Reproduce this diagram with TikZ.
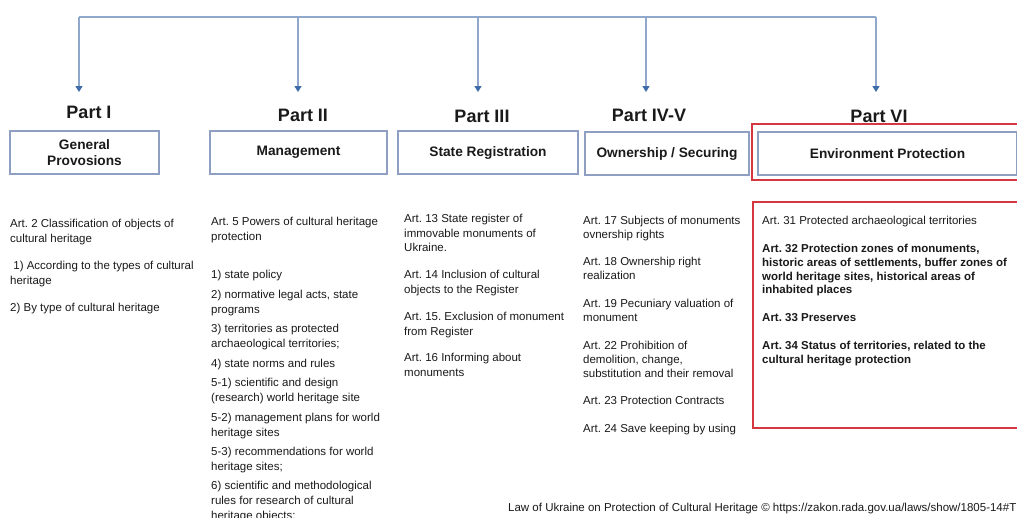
\documentclass[tikz,border=0pt]{standalone}
\usepackage{fontspec}
\setmainfont{Liberation Sans}
\usetikzlibrary{arrows.meta}
\frenchspacing
\definecolor{linkblue}{HTML}{8FA8CC}
\definecolor{tipblue}{HTML}{3F6CA8}
\definecolor{boxgray}{HTML}{8E9FC2}
\definecolor{framered}{HTML}{D4373F}
\definecolor{inktext}{HTML}{1A1A1A}
\tikzset{
  link/.style={draw=linkblue, line width=1.4pt,
    -{Triangle[width=7pt,length=6pt,color=tipblue]}},
  rail/.style={draw=linkblue, line width=1.4pt},
  parttitle/.style={font=\fontsize{18}{20}\selectfont\bfseries, text=inktext, inner sep=0pt},
  partbox/.style={draw=boxgray, line width=1.2pt, fill=white, minimum height=43pt,
    align=center, inner sep=0pt, text=inktext,
    font=\fontsize{13.7}{16}\selectfont\bfseries},
  redframe/.style={draw=framered, line width=1.3pt},
  item/.style={anchor=north west, align=left, inner sep=0pt, text=inktext},
  itemA/.style={item, font=\fontsize{11.5}{15}\selectfont},
  itemB/.style={item, font=\fontsize{11.5}{14.5}\selectfont},
  itemC/.style={item, font=\fontsize{11.5}{14}\selectfont},
  itemCb/.style={item, font=\fontsize{11.5}{13.8}\selectfont\bfseries},
}
\begin{document}
\begin{tikzpicture}[x=1pt,y=-1pt]
  \clip (0,0) rectangle (1017,517);
  \fill[white] (0,0) rectangle (1017,517);

  % red frames around the Part VI heading and its articles
  \draw[redframe] (752,124) rectangle (1030,180);
  \draw[redframe] (753,202) rectangle (1030,428);

  % part headings
  \node[parttitle] (p1) at (89,112) {Part I};
  \node[parttitle] (p2) at (303,115) {Part II};
  \node[parttitle] (p3) at (482,116) {Part III};
  \node[parttitle] (p4) at (649,115) {Part IV-V};
  \node[parttitle] (p6) at (879,116) {Part VI};

  % part boxes
  \node[partbox, minimum width=149pt] (b1) at (84.5,152.5) {General\\Provosions};
  \node[partbox, minimum width=177pt] (b2) at (298.5,152.5) {Management};
  \node[partbox, minimum width=180pt] (b3) at (488,152.5) {State Registration};
  \node[partbox, minimum width=164pt] (b4) at (667,153.5) {Ownership / Securing};
  \node[partbox, minimum width=259pt] (b6) at (887.5,153.5) {Environment Protection};

  % distribution rail and arrows
  \coordinate (r1) at (79,17);
  \coordinate (r2) at (298,17);
  \coordinate (r3) at (478,17);
  \coordinate (r4) at (646,17);
  \coordinate (r6) at (876,17);
  \coordinate (e1) at (79,92);
  \coordinate (e2) at (298,92);
  \coordinate (e3) at (478,92);
  \coordinate (e4) at (646,92);
  \coordinate (e6) at (876,92);
  \draw[rail] (r1) -- (r6);
  \draw[link] (r1) -- (e1);
  \draw[link] (r2) -- (e2);
  \draw[link] (r3) -- (e3);
  \draw[link] (r4) -- (e4);
  \draw[link] (r6) -- (e6);

  % Part I articles
  \node[itemA] (c1a) at (10,219) {Art. 2 Classification of objects of\\cultural heritage};
  \node[itemA] (c1b) at (10,261) {\ 1) According to the types of cultural\\heritage};
  \node[itemA] (c1c) at (10,303) {2) By type of cultural heritage};

  % Part II articles
  \node[itemA] (c2a) at (211,217) {Art. 5 Powers of cultural heritage\\protection};
  \node[itemA] (c2b) at (211,270) {1) state policy};
  \node[itemA] (c2c) at (211,290) {2) normative legal acts, state\\programs};
  \node[itemA] (c2d) at (211,324) {3) territories as protected\\archaeological territories;};
  \node[itemA] (c2e) at (211,359) {4) state norms and rules};
  \node[itemA] (c2f) at (211,378) {5-1) scientific and design\\(research) world heritage site};
  \node[itemA] (c2g) at (211,413) {5-2) management plans for world\\heritage sites};
  \node[itemA] (c2h) at (211,447) {5-3) recommendations for world\\heritage sites;};
  \node[itemA] (c2i) at (211,481) {6) scientific and methodological\\rules for research of cultural\\heritage objects;};

  % Part III articles
  \node[itemB] (c3a) at (404,214) {Art. 13 State register of\\immovable monuments of\\Ukraine.};
  \node[itemB] (c3b) at (404,270) {Art. 14 Inclusion of cultural\\objects to the Register};
  \node[itemB] (c3c) at (404,312) {Art. 15. Exclusion of monument\\from Register};
  \node[itemB] (c3d) at (404,353) {Art. 16 Informing about\\monuments};

  % Part IV-V articles
  \node[itemC] (c4a) at (583,216) {Art. 17 Subjects of monuments\\ovnership rights};
  \node[itemC] (c4b) at (583,257) {Art. 18 Ownership right\\realization};
  \node[itemC] (c4c) at (583,299) {Art. 19 Pecuniary valuation of\\monument};
  \node[itemC] (c4d) at (583,341) {Art. 22 Prohibition of\\demolition, change,\\substitution and their removal};
  \node[itemC] (c4e) at (583,396) {Art. 23 Protection Contracts};
  \node[itemC] (c4f) at (583,424) {Art. 24 Save keeping by using};

  % Part VI articles
  \node[itemC] (c6a) at (762,216) {Art. 31 Protected archaeological territories};
  \node[itemCb] (c6b) at (762,244) {Art. 32 Protection zones of monuments,\\historic areas of settlements, buffer zones of\\world heritage sites, historical areas of\\inhabited places};
  \node[itemCb] (c6c) at (762,313) {Art. 33 Preserves};
  \node[itemCb] (c6d) at (762,341) {Art. 34 Status of territories, related to the\\cultural heritage protection};

  % source line
  \node[anchor=west, inner sep=0pt, text=inktext, font=\fontsize{11.5}{13}\selectfont]
    (src) at (508,509) {Law of Ukraine on Protection of Cultural Heritage © https://zakon.rada.gov.ua/laws/show/1805-14\#T};
\end{tikzpicture}
\end{document}
